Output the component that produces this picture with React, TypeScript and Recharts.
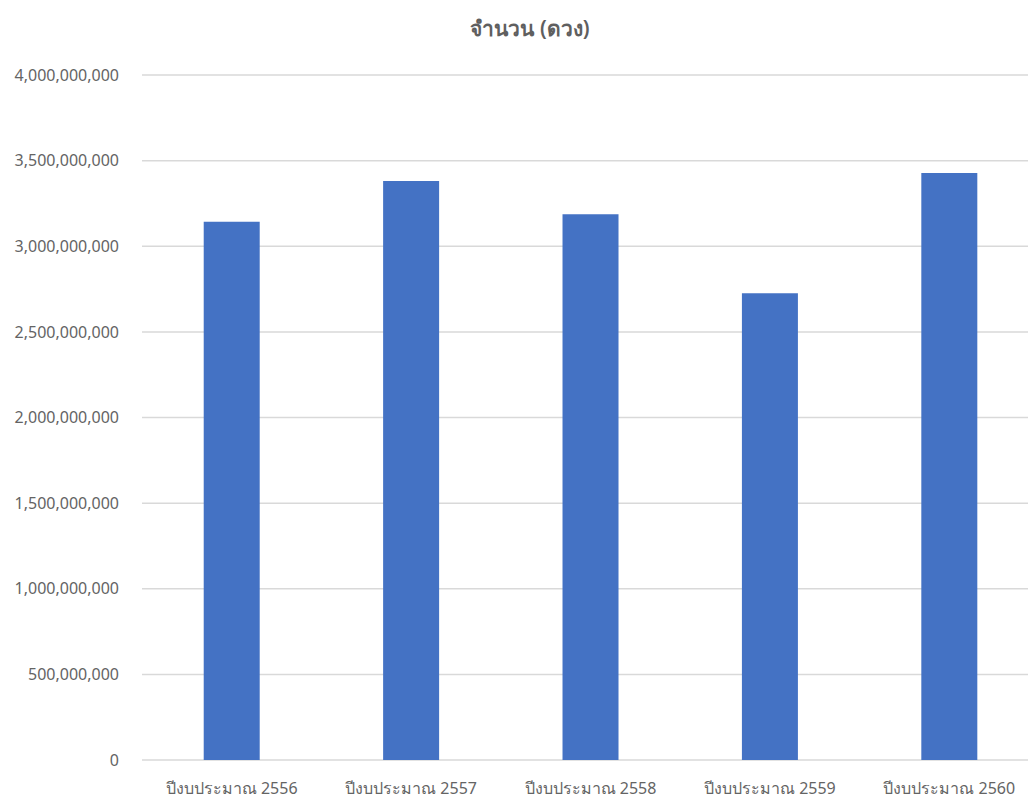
import { Bar, BarChart, CartesianGrid, XAxis, YAxis } from "recharts";

const categories = [
  "ปีงบประมาณ 2556",
  "ปีงบประมาณ 2557",
  "ปีงบประมาณ 2558",
  "ปีงบประมาณ 2559",
  "ปีงบประมาณ 2560"
];
const counts = [3143000000, 3381000000, 3187000000, 2725000000, 3428000000];
const yTicks = [0, 500000000, 1000000000, 1500000000, 2000000000, 2500000000, 3000000000, 3500000000, 4000000000];
const title = "จำนวน (ดวง)";

const data = categories.map((name, i) => ({ name, count: counts[i] }));

const font = "'Noto Sans', 'Open Sans', sans-serif";
const textColor = "#646464";
const gridColor = "#d9d9d9";

export default function App() {
  return (
    <div
      style={{
        position: "absolute",
        left: 0,
        top: 0,
        width: 1028,
        height: 799,
        overflow: "hidden",
        background: "#fff",
        fontFamily: font
      }}
    >
      <div
        style={{
          position: "absolute",
          left: 430,
          width: 200,
          top: 12,
          textAlign: "center",
          fontSize: 21,
          fontWeight: 600,
          color: "#5f5f5f"
        }}
      >
        {title}
      </div>
      <BarChart
        width={1045}
        height={799}
        data={data}
        margin={{ top: 75, right: 6, left: 0, bottom: 0 }}
        barCategoryGap="34.4%"
      >
        <CartesianGrid stroke={gridColor} strokeWidth={1.5} vertical={false} />
        <XAxis
          dataKey="name"
          axisLine={false}
          tickLine={false}
          interval={0}
          height={39}
          tickSize={0}
          tickMargin={23}
          tick={{ fill: textColor, fontSize: 16, fontFamily: font }}
        />
        <YAxis
          domain={[0, 4000000000]}
          ticks={yTicks}
          axisLine={false}
          tickLine={false}
          width={142}
          tickSize={0}
          tickMargin={23}
          tickFormatter={(v: number) => v.toLocaleString("en-US")}
          tick={{ fill: textColor, fontSize: 16, fontFamily: font }}
        />
        <Bar dataKey="count" fill="#4472c4" isAnimationActive={false} />
      </BarChart>
    </div>
  );
}
